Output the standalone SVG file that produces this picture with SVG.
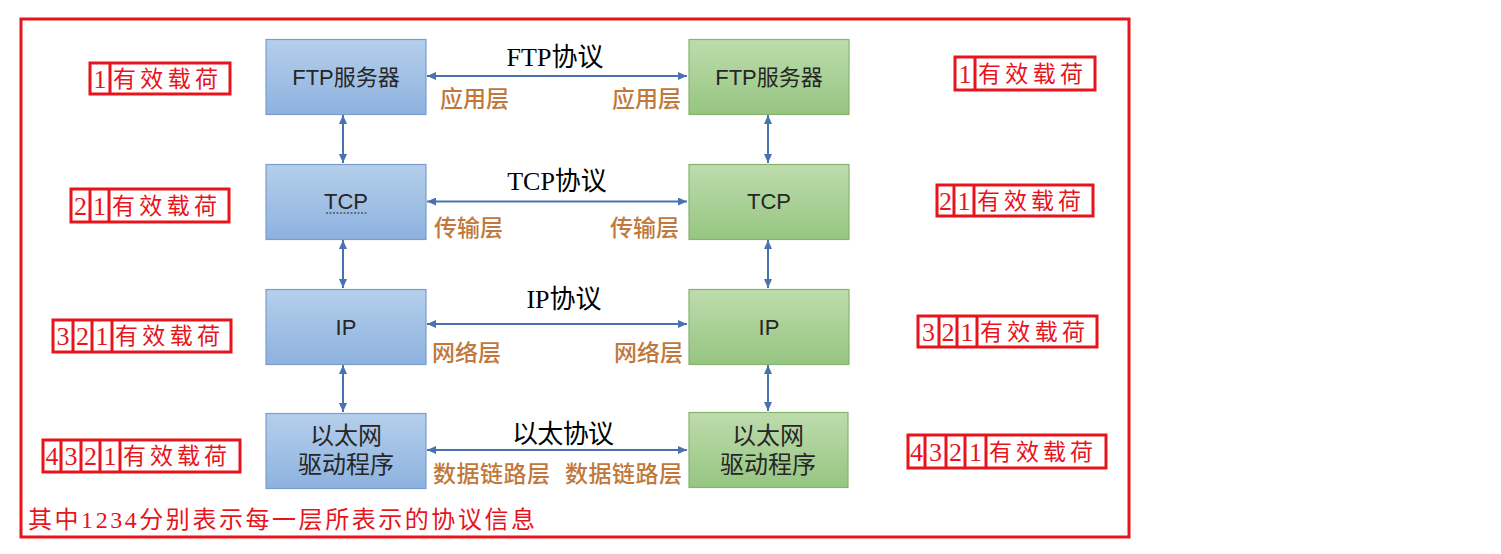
<svg xmlns="http://www.w3.org/2000/svg" width="1501" height="554" viewBox="0 0 1501 554">
<style>
.frame{fill:none;stroke:#e8141c;stroke-width:3}
.blue{fill:url(#gb);stroke:#7c9ccb;stroke-width:1.2}
.green{fill:url(#gg);stroke:#86b46f;stroke-width:1.2}
.nt{font-family:"Liberation Sans","Noto Sans CJK SC",sans-serif;font-size:22px;fill:#262626;text-anchor:middle}
.nc{font-size:24px}
.proto{font-family:"Liberation Serif","Noto Sans CJK SC",serif;font-size:26px;fill:#000;text-anchor:middle}
.layer{font-family:"Noto Sans CJK SC",sans-serif;font-size:23px;font-weight:500;fill:#c0783c}
.conn{stroke:#4a72b0;stroke-width:2;fill:none;marker-start:url(#ah);marker-end:url(#ah)}
.pb{fill:none;stroke:#e8141c;stroke-width:3}
.pd{font-family:"Liberation Serif",serif;font-size:26px;fill:#e8141c;text-anchor:middle}
.pt{font-family:"Liberation Serif","Noto Sans CJK SC",serif;font-size:23px;fill:#e8141c}
.note{font-family:"Liberation Serif","Noto Sans CJK SC",serif;font-size:24px;fill:#e8141c}
</style>
<defs>
<linearGradient id="gb" x1="0" y1="0" x2="0" y2="1"><stop offset="0" stop-color="#b5cfeb"/><stop offset="1" stop-color="#8db2df"/></linearGradient>
<linearGradient id="gg" x1="0" y1="0" x2="0" y2="1"><stop offset="0" stop-color="#bedcad"/><stop offset="1" stop-color="#96c581"/></linearGradient>
<marker id="ah" viewBox="0 0 9 8" refX="9" refY="4" markerWidth="9" markerHeight="8" markerUnits="userSpaceOnUse" orient="auto-start-reverse"><path d="M0,0 L9,4 L0,8 z" fill="#4a72b0"/></marker>
</defs>
<rect width="1501" height="554" fill="#fff"/>
<rect class="frame" x="21" y="19" width="1108" height="518"/>

<g id="connectors">
<line class="conn" x1="427" y1="76" x2="687" y2="76"/>
<line class="conn" x1="427" y1="201.5" x2="687" y2="201.5"/>
<line class="conn" x1="427" y1="324" x2="687" y2="324"/>
<line class="conn" x1="427" y1="450" x2="687" y2="450"/>
<line class="conn" x1="343" y1="115" x2="343" y2="163"/>
<line class="conn" x1="343" y1="240" x2="343" y2="288"/>
<line class="conn" x1="343" y1="365" x2="343" y2="412"/>
<line class="conn" x1="768" y1="115" x2="768" y2="163"/>
<line class="conn" x1="768" y1="240" x2="768" y2="288"/>
<line class="conn" x1="768" y1="365" x2="768" y2="411"/>
</g>

<g id="ftp-left"><rect class="blue" x="266" y="39.5" width="160" height="75"/><text class="nt" x="346" y="85">FTP服务器</text></g>
<g id="tcp-left"><rect class="blue" x="266" y="164.5" width="160" height="75"/><text class="nt" x="346" y="209">TCP</text><line x1="326" y1="213" x2="367" y2="213" stroke="#222" stroke-width="1" stroke-dasharray="2,1.5"/></g>
<g id="ip-left"><rect class="blue" x="266" y="289.5" width="160" height="75"/><text class="nt" x="346" y="335">IP</text></g>
<g id="eth-left"><rect class="blue" x="266" y="413.5" width="160" height="75"/><text class="nt nc" x="346" y="444">以太网</text><text class="nt nc" x="346" y="473">驱动程序</text></g>

<g id="ftp-right"><rect class="green" x="689" y="39.5" width="160" height="75"/><text class="nt" x="769" y="85">FTP服务器</text></g>
<g id="tcp-right"><rect class="green" x="689" y="164.5" width="160" height="75"/><text class="nt" x="769" y="209">TCP</text></g>
<g id="ip-right"><rect class="green" x="689" y="289.5" width="160" height="75"/><text class="nt" x="769" y="335">IP</text></g>
<g id="eth-right"><rect class="green" x="689" y="412.5" width="159" height="75"/><text class="nt nc" x="768" y="444">以太网</text><text class="nt nc" x="768" y="473">驱动程序</text></g>

<g id="labels">
<text class="proto" x="555" y="66">FTP协议</text>
<text class="proto" x="557" y="190">TCP协议</text>
<text class="proto" x="564" y="308">IP协议</text>
<text class="proto" x="563" y="443" textLength="102" lengthAdjust="spacing">以太协议</text>
<text class="layer" x="440" y="107">应用层</text>
<text class="layer" x="681" y="107" text-anchor="end">应用层</text>
<text class="layer" x="434" y="236">传输层</text>
<text class="layer" x="679" y="236" text-anchor="end">传输层</text>
<text class="layer" x="432" y="361">网络层</text>
<text class="layer" x="683" y="361" text-anchor="end">网络层</text>
<text class="layer" x="433" y="482" textLength="117" lengthAdjust="spacing">数据链路层</text>
<text class="layer" x="565" y="482" textLength="117" lengthAdjust="spacing">数据链路层</text>
</g>

<g id="payload-l1"><rect class="pb" x="90" y="63" width="140" height="31"/><line class="pb" x1="110" y1="63" x2="110" y2="94"/>
<text class="pd" x="100" y="88">1</text><text class="pt" x="113" y="87" textLength="105" lengthAdjust="spacing">有效载荷</text></g>
<g id="payload-l2"><rect class="pb" x="71" y="189" width="158" height="33"/><line class="pb" x1="90" y1="189" x2="90" y2="222"/><line class="pb" x1="109" y1="189" x2="109" y2="222"/>
<text class="pd" x="80.5" y="215">2</text><text class="pd" x="99.5" y="215">1</text><text class="pt" x="112" y="214" textLength="105" lengthAdjust="spacing">有效载荷</text></g>
<g id="payload-l3"><rect class="pb" x="53" y="320" width="178" height="32"/><line class="pb" x1="73" y1="320" x2="73" y2="352"/><line class="pb" x1="92" y1="320" x2="92" y2="352"/><line class="pb" x1="112" y1="320" x2="112" y2="352"/>
<text class="pd" x="63" y="345">3</text><text class="pd" x="82.5" y="345">2</text><text class="pd" x="102" y="345">1</text><text class="pt" x="115" y="344" textLength="105" lengthAdjust="spacing">有效载荷</text></g>
<g id="payload-l4"><rect class="pb" x="43" y="440" width="197" height="32"/><line class="pb" x1="61" y1="440" x2="61" y2="472"/><line class="pb" x1="81" y1="440" x2="81" y2="472"/><line class="pb" x1="100" y1="440" x2="100" y2="472"/><line class="pb" x1="120" y1="440" x2="120" y2="472"/>
<text class="pd" x="52" y="465">4</text><text class="pd" x="71" y="465">3</text><text class="pd" x="90.5" y="465">2</text><text class="pd" x="110" y="465">1</text><text class="pt" x="123" y="464" textLength="104" lengthAdjust="spacing">有效载荷</text></g>

<g id="payload-r1"><rect class="pb" x="955" y="57" width="140" height="33"/><line class="pb" x1="975" y1="57" x2="975" y2="90"/>
<text class="pd" x="965" y="83">1</text><text class="pt" x="978" y="82" textLength="105" lengthAdjust="spacing">有效载荷</text></g>
<g id="payload-r2"><rect class="pb" x="937" y="185" width="156" height="31"/><line class="pb" x1="954" y1="185" x2="954" y2="216"/><line class="pb" x1="974" y1="185" x2="974" y2="216"/>
<text class="pd" x="945.5" y="210">2</text><text class="pd" x="964" y="210">1</text><text class="pt" x="977" y="209" textLength="104" lengthAdjust="spacing">有效载荷</text></g>
<g id="payload-r3"><rect class="pb" x="918" y="316" width="179" height="31"/><line class="pb" x1="939" y1="316" x2="939" y2="347"/><line class="pb" x1="957" y1="316" x2="957" y2="347"/><line class="pb" x1="977" y1="316" x2="977" y2="347"/>
<text class="pd" x="928.5" y="341">3</text><text class="pd" x="948" y="341">2</text><text class="pd" x="967" y="341">1</text><text class="pt" x="980" y="340" textLength="105" lengthAdjust="spacing">有效载荷</text></g>
<g id="payload-r4"><rect class="pb" x="908" y="435" width="198" height="33"/><line class="pb" x1="925" y1="435" x2="925" y2="468"/><line class="pb" x1="946" y1="435" x2="946" y2="468"/><line class="pb" x1="965" y1="435" x2="965" y2="468"/><line class="pb" x1="986" y1="435" x2="986" y2="468"/>
<text class="pd" x="916.5" y="461">4</text><text class="pd" x="935.5" y="461">3</text><text class="pd" x="955.5" y="461">2</text><text class="pd" x="975.5" y="461">1</text><text class="pt" x="989" y="460" textLength="104" lengthAdjust="spacing">有效载荷</text></g>

<text class="note" x="28" y="528" textLength="507" lengthAdjust="spacing">其中1234分别表示每一层所表示的协议信息</text>
</svg>
